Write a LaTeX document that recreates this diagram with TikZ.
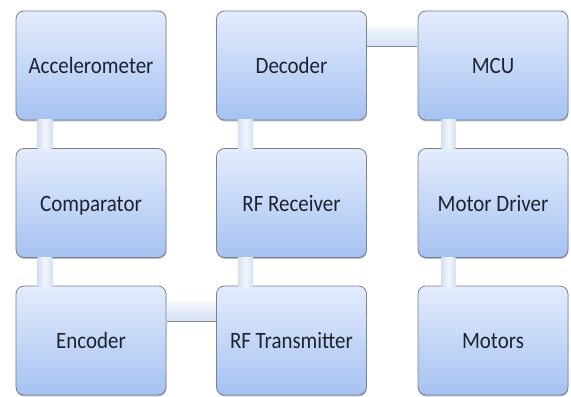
\documentclass[tikz,border=0pt]{standalone}
\usepackage{fontspec}
\setmainfont{Carlito}
\usetikzlibrary{shadows}
\definecolor{boxtop}{RGB}{228,236,252}
\definecolor{boxbot}{RGB}{166,194,242}
\definecolor{boxline}{RGB}{120,130,148}
\definecolor{conntop}{RGB}{242,246,253}
\definecolor{connbot}{RGB}{212,224,244}
\definecolor{connedge}{RGB}{130,138,150}
\definecolor{txt}{RGB}{28,34,48}
\tikzset{
  blockbox/.style={draw=boxline, line width=0.8bp, rounded corners=8bp,
    top color=boxtop, bottom color=boxbot,
    minimum width=150bp, minimum height=109bp, inner sep=0pt,
    text height=16bp, text depth=0bp,
    text=txt, font=\fontsize{21}{24}\selectfont,
    drop shadow={shadow xshift=0.4bp, shadow yshift=-1.4bp, opacity=0.45, fill=black!60}},
  vconn/.style={left color=connbot, right color=connbot, middle color=conntop, draw=none},
  hconn/.style={top color=conntop, bottom color=connbot, draw=none},
  hedge/.style={draw=connedge, line width=0.8bp}
}
\newcommand{\vstretch}[1]{\scalebox{1}[1.12]{#1}}
\begin{document}
\begin{tikzpicture}[x=1bp,y=1bp]
\fill[white] (0,0) rectangle (571,396);
\useasboundingbox (0,0) rectangle (571,396);
% nodes
\node[blockbox] (acc) at (91,330.5) {\vstretch{Accelerometer}};
\node[blockbox] (comp) at (91,193) {\vstretch{Comparator}};
\node[blockbox] (enc) at (91,55.5) {\vstretch{Encoder}};
\node[blockbox] (dec) at (291.5,330.5) {\vstretch{Decoder}};
\node[blockbox] (rfr) at (291.5,193) {\vstretch{RF Receiver}};
\node[blockbox] (rft) at (291.5,55.5) {\vstretch{RF Transmitter}};
\node[blockbox] (mcu) at (493,330.5) {\vstretch{MCU}};
\node[blockbox] (mdr) at (493,193) {\vstretch{Motor Driver}};
\node[blockbox] (mot) at (493,55.5) {\vstretch{Motors}};
% connectors
\fill[vconn] ([xshift=22bp,yshift=0.8bp]acc.south west) rectangle ([xshift=37bp,yshift=-0.4bp]comp.north west);
\fill[vconn] ([xshift=22bp,yshift=0.8bp]comp.south west) rectangle ([xshift=37bp,yshift=-0.4bp]enc.north west);
\fill[vconn] ([xshift=22bp,yshift=0.8bp]dec.south west) rectangle ([xshift=37bp,yshift=-0.4bp]rfr.north west);
\fill[vconn] ([xshift=22bp,yshift=0.8bp]rfr.south west) rectangle ([xshift=37bp,yshift=-0.4bp]rft.north west);
\fill[vconn] ([xshift=24bp,yshift=0.8bp]mcu.south west) rectangle ([xshift=38bp,yshift=-0.4bp]mdr.north west);
\fill[vconn] ([xshift=24bp,yshift=0.8bp]mdr.south west) rectangle ([xshift=38bp,yshift=-0.4bp]mot.north west);
\fill[hconn] ([xshift=0.4bp,yshift=-17bp]enc.north east) rectangle ([xshift=-0.4bp,yshift=-36bp]rft.north west);
\draw[hedge] ([xshift=0.4bp,yshift=-36bp]enc.north east) -- ([xshift=-0.4bp,yshift=-36bp]rft.north west);
\fill[hconn] ([xshift=0.4bp,yshift=-17bp]dec.north east) rectangle ([xshift=-0.4bp,yshift=-36bp]mcu.north west);
\draw[hedge] ([xshift=0.4bp,yshift=-36bp]dec.north east) -- ([xshift=-0.4bp,yshift=-36bp]mcu.north west);
\end{tikzpicture}
\end{document}
